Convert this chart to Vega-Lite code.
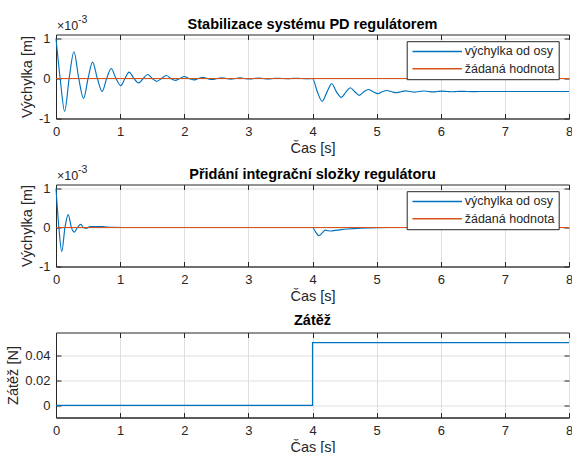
{
  "$schema": "https://vega.github.io/schema/vega-lite/v6.json",
  "padding": {"left": 5, "top": 14.5, "right": 0, "bottom": 0},
  "background": "white",
  "datasets": {
    "p1": [
      {"cas": 0, "vychylka": 1.0, "serie": "výchylka od osy"},
      {"cas": 0.065, "vychylka": 0, "serie": "výchylka od osy"},
      {"cas": 0.135, "vychylka": -0.82, "serie": "výchylka od osy"},
      {"cas": 0.205, "vychylka": 0, "serie": "výchylka od osy"},
      {"cas": 0.28, "vychylka": 0.67, "serie": "výchylka od osy"},
      {"cas": 0.355, "vychylka": 0, "serie": "výchylka od osy"},
      {"cas": 0.43, "vychylka": -0.5, "serie": "výchylka od osy"},
      {"cas": 0.5, "vychylka": 0, "serie": "výchylka od osy"},
      {"cas": 0.57, "vychylka": 0.41, "serie": "výchylka od osy"},
      {"cas": 0.645, "vychylka": 0, "serie": "výchylka od osy"},
      {"cas": 0.72, "vychylka": -0.32, "serie": "výchylka od osy"},
      {"cas": 0.79, "vychylka": 0, "serie": "výchylka od osy"},
      {"cas": 0.86, "vychylka": 0.25, "serie": "výchylka od osy"},
      {"cas": 0.935, "vychylka": 0, "serie": "výchylka od osy"},
      {"cas": 1.01, "vychylka": -0.18, "serie": "výchylka od osy"},
      {"cas": 1.075, "vychylka": 0, "serie": "výchylka od osy"},
      {"cas": 1.14, "vychylka": 0.16, "serie": "výchylka od osy"},
      {"cas": 1.215, "vychylka": 0, "serie": "výchylka od osy"},
      {"cas": 1.29, "vychylka": -0.11, "serie": "výchylka od osy"},
      {"cas": 1.36, "vychylka": 0, "serie": "výchylka od osy"},
      {"cas": 1.43, "vychylka": 0.1, "serie": "výchylka od osy"},
      {"cas": 1.5, "vychylka": 0, "serie": "výchylka od osy"},
      {"cas": 1.57, "vychylka": -0.07, "serie": "výchylka od osy"},
      {"cas": 1.645, "vychylka": 0, "serie": "výchylka od osy"},
      {"cas": 1.72, "vychylka": 0.075, "serie": "výchylka od osy"},
      {"cas": 1.79, "vychylka": 0, "serie": "výchylka od osy"},
      {"cas": 1.86, "vychylka": -0.045, "serie": "výchylka od osy"},
      {"cas": 1.93, "vychylka": 0, "serie": "výchylka od osy"},
      {"cas": 2.0, "vychylka": 0.05, "serie": "výchylka od osy"},
      {"cas": 2.07, "vychylka": 0, "serie": "výchylka od osy"},
      {"cas": 2.15, "vychylka": -0.035, "serie": "výchylka od osy"},
      {"cas": 2.22, "vychylka": 0, "serie": "výchylka od osy"},
      {"cas": 2.29, "vychylka": 0.03, "serie": "výchylka od osy"},
      {"cas": 2.36, "vychylka": 0, "serie": "výchylka od osy"},
      {"cas": 2.44, "vychylka": -0.025, "serie": "výchylka od osy"},
      {"cas": 2.51, "vychylka": 0, "serie": "výchylka od osy"},
      {"cas": 2.58, "vychylka": 0.02, "serie": "výchylka od osy"},
      {"cas": 2.65, "vychylka": 0, "serie": "výchylka od osy"},
      {"cas": 2.73, "vychylka": -0.018, "serie": "výchylka od osy"},
      {"cas": 2.8, "vychylka": 0, "serie": "výchylka od osy"},
      {"cas": 2.87, "vychylka": 0.015, "serie": "výchylka od osy"},
      {"cas": 2.94, "vychylka": 0, "serie": "výchylka od osy"},
      {"cas": 3.02, "vychylka": -0.012, "serie": "výchylka od osy"},
      {"cas": 3.09, "vychylka": 0, "serie": "výchylka od osy"},
      {"cas": 3.16, "vychylka": 0.01, "serie": "výchylka od osy"},
      {"cas": 3.23, "vychylka": 0, "serie": "výchylka od osy"},
      {"cas": 3.31, "vychylka": -0.008, "serie": "výchylka od osy"},
      {"cas": 3.38, "vychylka": 0, "serie": "výchylka od osy"},
      {"cas": 3.45, "vychylka": 0.007, "serie": "výchylka od osy"},
      {"cas": 3.52, "vychylka": 0, "serie": "výchylka od osy"},
      {"cas": 3.6, "vychylka": -0.005, "serie": "výchylka od osy"},
      {"cas": 3.67, "vychylka": 0, "serie": "výchylka od osy"},
      {"cas": 3.74, "vychylka": 0.004, "serie": "výchylka od osy"},
      {"cas": 3.81, "vychylka": 0, "serie": "výchylka od osy"},
      {"cas": 3.89, "vychylka": -0.003, "serie": "výchylka od osy"},
      {"cas": 4.0, "vychylka": 0, "serie": "výchylka od osy"},
      {"cas": 4.075, "vychylka": -0.33, "serie": "výchylka od osy"},
      {"cas": 4.15, "vychylka": -0.57, "serie": "výchylka od osy"},
      {"cas": 4.225, "vychylka": -0.34, "serie": "výchylka od osy"},
      {"cas": 4.3, "vychylka": -0.13, "serie": "výchylka od osy"},
      {"cas": 4.375, "vychylka": -0.34, "serie": "výchylka od osy"},
      {"cas": 4.45, "vychylka": -0.47, "serie": "výchylka od osy"},
      {"cas": 4.52, "vychylka": -0.34, "serie": "výchylka od osy"},
      {"cas": 4.59, "vychylka": -0.23, "serie": "výchylka od osy"},
      {"cas": 4.66, "vychylka": -0.33, "serie": "výchylka od osy"},
      {"cas": 4.73, "vychylka": -0.42, "serie": "výchylka od osy"},
      {"cas": 4.8, "vychylka": -0.33, "serie": "výchylka od osy"},
      {"cas": 4.87, "vychylka": -0.275, "serie": "výchylka od osy"},
      {"cas": 4.945, "vychylka": -0.33, "serie": "výchylka od osy"},
      {"cas": 5.02, "vychylka": -0.38, "serie": "výchylka od osy"},
      {"cas": 5.09, "vychylka": -0.33, "serie": "výchylka od osy"},
      {"cas": 5.16, "vychylka": -0.3, "serie": "výchylka od osy"},
      {"cas": 5.235, "vychylka": -0.33, "serie": "výchylka od osy"},
      {"cas": 5.31, "vychylka": -0.355, "serie": "výchylka od osy"},
      {"cas": 5.38, "vychylka": -0.33, "serie": "výchylka od osy"},
      {"cas": 5.45, "vychylka": -0.31, "serie": "výchylka od osy"},
      {"cas": 5.52, "vychylka": -0.325, "serie": "výchylka od osy"},
      {"cas": 5.59, "vychylka": -0.34, "serie": "výchylka od osy"},
      {"cas": 5.665, "vychylka": -0.325, "serie": "výchylka od osy"},
      {"cas": 5.74, "vychylka": -0.312, "serie": "výchylka od osy"},
      {"cas": 5.81, "vychylka": -0.325, "serie": "výchylka od osy"},
      {"cas": 5.88, "vychylka": -0.335, "serie": "výchylka od osy"},
      {"cas": 5.95, "vychylka": -0.325, "serie": "výchylka od osy"},
      {"cas": 6.02, "vychylka": -0.317, "serie": "výchylka od osy"},
      {"cas": 6.1, "vychylka": -0.325, "serie": "výchylka od osy"},
      {"cas": 6.17, "vychylka": -0.331, "serie": "výchylka od osy"},
      {"cas": 6.25, "vychylka": -0.325, "serie": "výchylka od osy"},
      {"cas": 6.32, "vychylka": -0.32, "serie": "výchylka od osy"},
      {"cas": 6.4, "vychylka": -0.325, "serie": "výchylka od osy"},
      {"cas": 6.5, "vychylka": -0.328, "serie": "výchylka od osy"},
      {"cas": 6.6, "vychylka": -0.325, "serie": "výchylka od osy"},
      {"cas": 8.0, "vychylka": -0.325, "serie": "výchylka od osy"},
      {"cas": 0, "vychylka": 0, "serie": "žádaná hodnota"},
      {"cas": 8, "vychylka": 0, "serie": "žádaná hodnota"}
    ],
    "p2": [
      {"cas": 0, "vychylka": 1.0, "serie": "výchylka od osy"},
      {"cas": 0.045, "vychylka": 0, "serie": "výchylka od osy"},
      {"cas": 0.09, "vychylka": -0.62, "serie": "výchylka od osy"},
      {"cas": 0.14, "vychylka": 0, "serie": "výchylka od osy"},
      {"cas": 0.19, "vychylka": 0.33, "serie": "výchylka od osy"},
      {"cas": 0.24, "vychylka": 0, "serie": "výchylka od osy"},
      {"cas": 0.285, "vychylka": -0.12, "serie": "výchylka od osy"},
      {"cas": 0.335, "vychylka": 0, "serie": "výchylka od osy"},
      {"cas": 0.385, "vychylka": 0.08, "serie": "výchylka od osy"},
      {"cas": 0.43, "vychylka": 0, "serie": "výchylka od osy"},
      {"cas": 0.47, "vychylka": -0.02, "serie": "výchylka od osy"},
      {"cas": 0.53, "vychylka": 0.02, "serie": "výchylka od osy"},
      {"cas": 0.65, "vychylka": 0.025, "serie": "výchylka od osy"},
      {"cas": 0.76, "vychylka": 0.015, "serie": "výchylka od osy"},
      {"cas": 0.9, "vychylka": 0.005, "serie": "výchylka od osy"},
      {"cas": 1.2, "vychylka": 0, "serie": "výchylka od osy"},
      {"cas": 4.0, "vychylka": 0, "serie": "výchylka od osy"},
      {"cas": 4.05, "vychylka": -0.12, "serie": "výchylka od osy"},
      {"cas": 4.1, "vychylka": -0.21, "serie": "výchylka od osy"},
      {"cas": 4.15, "vychylka": -0.14, "serie": "výchylka od osy"},
      {"cas": 4.2, "vychylka": -0.07, "serie": "výchylka od osy"},
      {"cas": 4.25, "vychylka": -0.085, "serie": "výchylka od osy"},
      {"cas": 4.29, "vychylka": -0.09, "serie": "výchylka od osy"},
      {"cas": 4.35, "vychylka": -0.075, "serie": "výchylka od osy"},
      {"cas": 4.45, "vychylka": -0.055, "serie": "výchylka od osy"},
      {"cas": 4.55, "vychylka": -0.04, "serie": "výchylka od osy"},
      {"cas": 4.7, "vychylka": -0.022, "serie": "výchylka od osy"},
      {"cas": 4.85, "vychylka": -0.012, "serie": "výchylka od osy"},
      {"cas": 5.0, "vychylka": -0.005, "serie": "výchylka od osy"},
      {"cas": 5.2, "vychylka": 0, "serie": "výchylka od osy"},
      {"cas": 8.0, "vychylka": 0, "serie": "výchylka od osy"},
      {"cas": 0, "vychylka": 0, "serie": "žádaná hodnota"},
      {"cas": 8, "vychylka": 0, "serie": "žádaná hodnota"}
    ],
    "p3": [
      {"cas": 0, "zatez": 0},
      {"cas": 4, "zatez": 0.05},
      {"cas": 8, "zatez": 0.05}
    ]
  },
  "spacing": 66,
  "bounds": "flush",
  "vconcat": [
    {
      "width": 513,
      "height": 84,
      "title": {"text": "Stabilizace systému PD regulátorem", "offset": -17.5},
      "layer": [
        {
          "data": {"name": "p1"},
          "mark": {"type": "line", "interpolate": "monotone", "strokeWidth": 1.15},
          "encoding": {
            "x": {"field": "cas", "type": "quantitative", "scale": {"domain": [0, 8], "nice": false},
                  "axis": {"orient": "bottom", "values": [0,1,2,3,4,5,6,7,8], "title": "Čas [s]", "grid": true}},
            "y": {"field": "vychylka", "type": "quantitative", "scale": {"domain": [-1, 1.1], "nice": false, "zero": false},
                  "axis": {"orient": "left", "values": [-1, 0, 1], "title": "Výchylka [m]", "grid": true, "labelExpr": "datum.value < 0 ? '-' + format(-datum.value, '~g') : format(datum.value, '~g')"}},
            "color": {"field": "serie", "type": "nominal",
                      "scale": {"domain": ["výchylka od osy", "žádaná hodnota"], "range": ["#0072BD", "#D95319"]},
                      "legend": {"title": null}}
          }
        },
        {
          "data": {"values": [{}]},
          "mark": {"type": "point", "opacity": 0},
          "encoding": {
            "x": {"datum": 0, "axis": {"orient": "top", "values": [0,1,2,3,4,5,6,7,8], "labels": false, "domain": false, "grid": false, "title": null}},
            "y": {"datum": 0, "axis": {"orient": "right", "values": [-1, 0, 1], "labels": false, "domain": false, "grid": false, "title": null}}
          }
        },
        {
          "data": {"values": [{}]},
          "mark": {"type": "text", "align": "left", "baseline": "alphabetic", "dx": 1, "dy": -5, "fontSize": 12.5, "color": "#262626"},
          "encoding": {
            "x": {"datum": 0, "axis": null},
            "y": {"datum": 1.1, "axis": null},
            "text": {"value": "×10"}
          }
        },
        {
          "data": {"values": [{}]},
          "mark": {"type": "text", "align": "left", "baseline": "alphabetic", "dx": 22, "dy": -11.5, "fontSize": 10.5, "color": "#262626"},
          "encoding": {
            "x": {"datum": 0, "axis": null},
            "y": {"datum": 1.1, "axis": null},
            "text": {"value": "-3"}
          }
        }
      ],
      "resolve": {"axis": {"x": "independent", "y": "independent"}}
    },
    {
      "width": 513,
      "height": 82,
      "title": {"text": "Přidání integrační složky regulátoru", "offset": -17.5},
      "layer": [
        {
          "data": {"name": "p2"},
          "mark": {"type": "line", "interpolate": "monotone", "strokeWidth": 1.15},
          "encoding": {
            "x": {"field": "cas", "type": "quantitative", "scale": {"domain": [0, 8], "nice": false},
                  "axis": {"orient": "bottom", "values": [0,1,2,3,4,5,6,7,8], "title": "Čas [s]", "grid": true}},
            "y": {"field": "vychylka", "type": "quantitative", "scale": {"domain": [-1, 1.1], "nice": false, "zero": false},
                  "axis": {"orient": "left", "values": [-1, 0, 1], "title": "Výchylka [m]", "grid": true, "labelExpr": "datum.value < 0 ? '-' + format(-datum.value, '~g') : format(datum.value, '~g')"}},
            "color": {"field": "serie", "type": "nominal",
                      "scale": {"domain": ["výchylka od osy", "žádaná hodnota"], "range": ["#0072BD", "#D95319"]},
                      "legend": {"title": null}}
          }
        },
        {
          "data": {"values": [{}]},
          "mark": {"type": "point", "opacity": 0},
          "encoding": {
            "x": {"datum": 0, "axis": {"orient": "top", "values": [0,1,2,3,4,5,6,7,8], "labels": false, "domain": false, "grid": false, "title": null}},
            "y": {"datum": 0, "axis": {"orient": "right", "values": [-1, 0, 1], "labels": false, "domain": false, "grid": false, "title": null}}
          }
        },
        {
          "data": {"values": [{}]},
          "mark": {"type": "text", "align": "left", "baseline": "alphabetic", "dx": 1, "dy": -5, "fontSize": 12.5, "color": "#262626"},
          "encoding": {
            "x": {"datum": 0, "axis": null},
            "y": {"datum": 1.1, "axis": null},
            "text": {"value": "×10"}
          }
        },
        {
          "data": {"values": [{}]},
          "mark": {"type": "text", "align": "left", "baseline": "alphabetic", "dx": 22, "dy": -11.5, "fontSize": 10.5, "color": "#262626"},
          "encoding": {
            "x": {"datum": 0, "axis": null},
            "y": {"datum": 1.1, "axis": null},
            "text": {"value": "-3"}
          }
        }
      ],
      "resolve": {"axis": {"x": "independent", "y": "independent"}}
    },
    {
      "width": 513,
      "height": 85,
      "title": {"text": "Zátěž", "offset": 4},
      "layer": [
        {
          "data": {"name": "p3"},
          "mark": {"type": "line", "interpolate": "step-after", "strokeWidth": 1.15, "color": "#0072BD"},
          "encoding": {
            "x": {"field": "cas", "type": "quantitative", "scale": {"domain": [0, 8], "nice": false},
                  "axis": {"orient": "bottom", "values": [0,1,2,3,4,5,6,7,8], "title": "Čas [s]", "grid": true}},
            "y": {"field": "zatez", "type": "quantitative", "scale": {"domain": [-0.0096, 0.058], "nice": false, "zero": false},
                  "axis": {"orient": "left", "values": [0, 0.02, 0.04], "title": "Zátěž [N]", "grid": true, "labelExpr": "format(datum.value, '~g')"}}
          }
        },
        {
          "data": {"values": [{}]},
          "mark": {"type": "point", "opacity": 0},
          "encoding": {
            "x": {"datum": 0, "axis": {"orient": "top", "values": [0,1,2,3,4,5,6,7,8], "labels": false, "domain": false, "grid": false, "title": null}},
            "y": {"datum": 0, "axis": {"orient": "right", "values": [0, 0.02, 0.04], "labels": false, "domain": false, "grid": false, "title": null}}
          }
        }
      ],
      "resolve": {"axis": {"x": "independent", "y": "independent"}}
    }
  ],
  "resolve": {"scale": {"color": "independent"}, "legend": {"color": "independent"}},
  "config": {
    "font": "Liberation Sans",
    "view": {"stroke": "#262626", "strokeWidth": 1},
    "title": {"font": "Liberation Sans", "fontSize": 14.5, "fontWeight": "bold", "color": "#000000", "anchor": "middle", "frame": "group", "baseline": "alphabetic"},
    "text": {"font": "Liberation Sans"},
    "axis": {
      "labelFont": "Liberation Sans", "titleFont": "Liberation Sans",
      "labelFontSize": 13, "titleFontSize": 14.5, "titleFontWeight": "normal",
      "labelColor": "#262626", "titleColor": "#262626",
      "domainColor": "#262626", "tickColor": "#262626", "gridColor": "#dfdfdf",
      "domainWidth": 1, "tickWidth": 1, "tickSize": -5,
      "labelFlush": false, "labelOverlap": false
    },
    "axisX": {"labelPadding": 12, "titlePadding": 3},
    "axisY": {"labelPadding": 11, "titlePadding": 4},
    "legend": {
      "orient": "none", "legendX": 350.7, "legendY": 6.7,
      "symbolType": "M-1,0H10", "symbolSize": 81, "symbolStrokeWidth": 1.5,
      "labelFont": "Liberation Sans", "labelFontSize": 12.5, "labelColor": "#262626",
      "labelOffset": 41.5, "rowPadding": 4.2, "padding": 4,
      "strokeColor": "#262626", "fillColor": "#ffffff"
    }
  }
}
